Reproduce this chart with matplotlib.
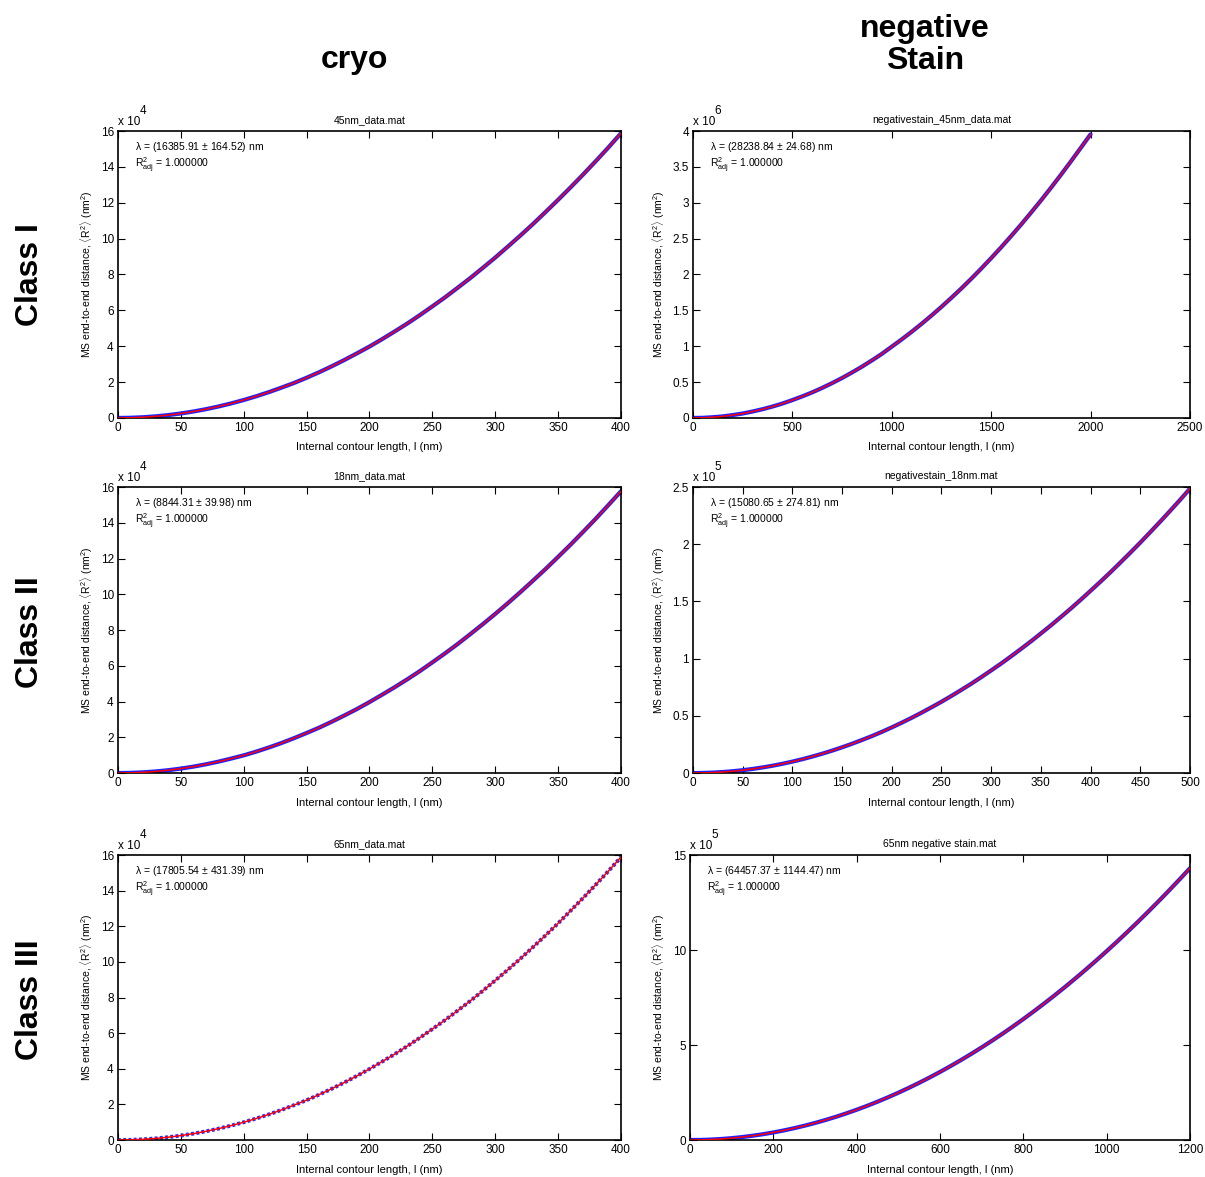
import matplotlib.pyplot as plt

plt.rcParams['font.family'] = ['Liberation Sans', 'DejaVu Sans']
plt.rcParams['mathtext.fontset'] = 'custom'
plt.rcParams['mathtext.rm'] = 'Liberation Sans'
plt.rcParams['mathtext.it'] = 'Liberation Sans'

# values (y in units of 10^exp)
cryo1_x = list(range(0, 401, 10))
cryo1_y = [0, 0.01, 0.04, 0.09, 0.16, 0.25, 0.36, 0.49, 0.64, 0.81, 1.00, 1.21, 1.44, 1.69,
           1.95, 2.24, 2.55, 2.88, 3.23, 3.60, 3.98, 4.39, 4.82, 5.26, 5.73, 6.22, 6.72, 7.25,
           7.79, 8.36, 8.94, 9.55, 10.17, 10.81, 11.48, 12.16, 12.86, 13.58, 14.32, 15.08, 15.87]

neg1_x = list(range(0, 2001, 50))
neg1_y = [0, 0.002, 0.01, 0.022, 0.04, 0.062, 0.09, 0.122, 0.159, 0.201, 0.249, 0.301, 0.357,
          0.419, 0.486, 0.557, 0.634, 0.715, 0.802, 0.893, 0.994, 1.095, 1.201, 1.312, 1.428,
          1.549, 1.675, 1.805, 1.941, 2.082, 2.228, 2.378, 2.534, 2.694, 2.860, 3.030, 3.206,
          3.386, 3.572, 3.762, 3.953]

cryo2_x = list(range(0, 401, 10))
cryo2_y = [0, 0.01, 0.04, 0.09, 0.16, 0.25, 0.36, 0.49, 0.64, 0.81, 0.99, 1.20, 1.43, 1.68,
           1.95, 2.24, 2.54, 2.87, 3.22, 3.58, 3.97, 4.38, 4.80, 5.24, 5.70, 6.19, 6.69, 7.21,
           7.76, 8.32, 8.90, 9.50, 10.12, 10.76, 11.41, 12.09, 12.78, 13.50, 14.23, 14.99, 15.76]

neg2_x = list(range(0, 501, 10))
neg2_y = [0, 0.001, 0.004, 0.009, 0.016, 0.025, 0.036, 0.049, 0.064, 0.081, 0.100, 0.121,
          0.144, 0.169, 0.196, 0.225, 0.256, 0.289, 0.323, 0.360, 0.399, 0.440, 0.483, 0.528,
          0.575, 0.623, 0.674, 0.727, 0.781, 0.838, 0.897, 0.957, 1.020, 1.085, 1.151, 1.220,
          1.290, 1.363, 1.437, 1.514, 1.593, 1.673, 1.755, 1.840, 1.926, 2.014, 2.105, 2.197,
          2.291, 2.387, 2.486]

cryo3_x = list(range(0, 401, 10))
cryo3_y = [0, 0.01, 0.04, 0.09, 0.16, 0.25, 0.36, 0.49, 0.64, 0.81, 1.00, 1.21, 1.44, 1.69,
           1.96, 2.24, 2.55, 2.88, 3.23, 3.60, 3.99, 4.40, 4.82, 5.27, 5.74, 6.23, 6.73, 7.26,
           7.80, 8.37, 8.96, 9.56, 10.18, 10.83, 11.49, 12.17, 12.88, 13.60, 14.34, 15.10, 15.88]

neg3_x = list(range(0, 1201, 25))
neg3_y = [0, 0.006, 0.025, 0.056, 0.100, 0.156, 0.225, 0.306, 0.399, 0.505, 0.624, 0.755,
          0.898, 1.054, 1.222, 1.402, 1.595, 1.800, 2.018, 2.248, 2.491, 2.746, 3.013, 3.293,
          3.585, 3.890, 4.207, 4.536, 4.878, 5.232, 5.599, 5.978, 6.369, 6.773, 7.189, 7.617,
          8.058, 8.511, 8.977, 9.455, 9.945, 10.448, 10.963, 11.490, 12.030, 12.582, 13.147,
          13.724, 14.313]

panels = [
    dict(x=cryo1_x, y=cryo1_y, exp=4, title='45nm_data.mat', lam='(16385.91 $\\pm$ 164.52)',
         xlim=(0, 400), xt=range(0, 401, 50), ylim=(0, 16), yt=range(0, 17, 2),
         pos=[0.0979, 0.6449, 0.4174, 0.2438], dotted=False),
    dict(x=neg1_x, y=neg1_y, exp=6, title='negativestain_45nm_data.mat', lam='(28238.84 $\\pm$ 24.68)',
         xlim=(0, 2500), xt=range(0, 2501, 500), ylim=(0, 4), yt=[0, 0.5, 1, 1.5, 2, 2.5, 3, 3.5, 4],
         pos=[0.5751, 0.6449, 0.4124, 0.2438], dotted=False),
    dict(x=cryo2_x, y=cryo2_y, exp=4, title='18nm_data.mat', lam='(8844.31 $\\pm$ 39.98)',
         xlim=(0, 400), xt=range(0, 401, 50), ylim=(0, 16), yt=range(0, 17, 2),
         pos=[0.0979, 0.3432, 0.4174, 0.2430], dotted=False),
    dict(x=neg2_x, y=neg2_y, exp=5, title='negativestain_18nm.mat', lam='(15080.65 $\\pm$ 274.81)',
         xlim=(0, 500), xt=range(0, 501, 50), ylim=(0, 2.5), yt=[0, 0.5, 1, 1.5, 2, 2.5],
         pos=[0.5751, 0.3432, 0.4124, 0.2430], dotted=False),
    dict(x=cryo3_x, y=cryo3_y, exp=4, title='65nm_data.mat', lam='(17805.54 $\\pm$ 431.39)',
         xlim=(0, 400), xt=range(0, 401, 50), ylim=(0, 16), yt=range(0, 17, 2),
         pos=[0.0979, 0.0314, 0.4174, 0.2421], dotted=True),
    dict(x=neg3_x, y=neg3_y, exp=5, title='65nm negative stain.mat', lam='(64457.37 $\\pm$ 1144.47)',
         xlim=(0, 1200), xt=range(0, 1201, 200), ylim=(0, 15), yt=[0, 5, 10, 15],
         pos=[0.5726, 0.0314, 0.4150, 0.2421], dotted=False),
]

fig = plt.figure(figsize=(12.05, 11.77), dpi=100)

for p in panels:
    ax = fig.add_axes(p['pos'])
    if p['dotted']:
        ax.plot(p['x'], p['y'], color='#2a2aff', lw=2.8, linestyle=(0, (0.75, 0.6)),
                dash_capstyle='butt', zorder=2)
    else:
        ax.plot(p['x'], p['y'], color='#2020ff', lw=3.0, solid_capstyle='round', zorder=2)
    ax.plot(p['x'], p['y'], color='#ff0000', lw=1.1, zorder=3)
    ax.set_xlim(*p['xlim'])
    ax.set_ylim(*p['ylim'])
    ax.set_xticks(list(p['xt']))
    ax.set_yticks(list(p['yt']))
    ax.set_yticklabels(['%g' % v for v in p['yt']])
    ax.tick_params(direction='in', top=True, right=True, length=5, width=0.8, labelsize=8.5, pad=3)
    for s in ax.spines.values():
        s.set_linewidth(1.2)
    ax.set_title(p['title'], fontsize=7.5, pad=6)
    ax.set_xlabel('Internal contour length, l (nm)', fontsize=8, labelpad=6)
    ax.set_ylabel(r'MS end-to-end distance, $\langle$R$^2\rangle$ (nm$^2$)', fontsize=7.5, labelpad=4)
    ax.text(0.0, 1.012, r'x 10', transform=ax.transAxes, fontsize=8.5, ha='left', va='bottom')
    ax.text(0.043, 1.05, str(p['exp']), transform=ax.transAxes, fontsize=8.5, ha='left', va='bottom')
    ax.text(0.034, 0.944, r'$\lambda$ = ' + p['lam'] + ' nm', transform=ax.transAxes,
            fontsize=7.5, va='center')
    ax.text(0.034, 0.88, r'R$^2_{\mathrm{adj}}$ = 1.000000', transform=ax.transAxes,
            fontsize=7.5, va='center')

fig.text(354 / 1205, 1 - 60 / 1177, 'cryo', fontsize=23, fontweight='bold', ha='center', va='center')
fig.text(925 / 1205, 1 - 45 / 1177, 'negative\nStain', fontsize=23, fontweight='bold',
         ha='center', va='center', linespacing=1.1)
fig.text(30 / 1205, 1 - 275 / 1177, 'Class I', fontsize=23, fontweight='bold', rotation=90,
         ha='center', va='center')
fig.text(30 / 1205, 1 - 632 / 1177, 'Class II', fontsize=23, fontweight='bold', rotation=90,
         ha='center', va='center')
fig.text(30 / 1205, 1 - 1000 / 1177, 'Class III', fontsize=23, fontweight='bold', rotation=90,
         ha='center', va='center')

fig.savefig('out.png', dpi=100)
